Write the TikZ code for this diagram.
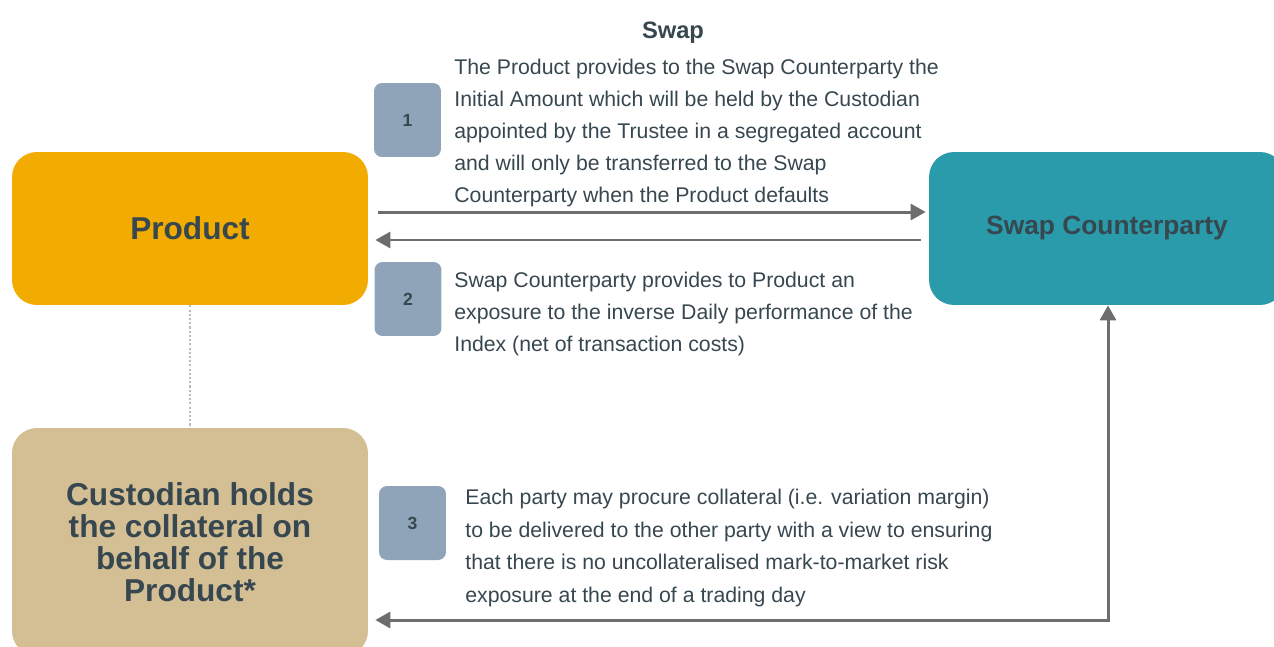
\documentclass[tikz,border=0pt]{standalone}
\usepackage{fontspec}
\setmainfont{Liberation Sans}
\usetikzlibrary{arrows.meta}

\definecolor{prodorange}{HTML}{F2AB00}
\definecolor{swapteal}{HTML}{2A9BAA}
\definecolor{custtan}{HTML}{D4BE94}
\definecolor{stepgray}{HTML}{8FA4B8}
\definecolor{inkslate}{HTML}{37474F}
\definecolor{flowgray}{HTML}{6D6D6D}

\tikzset{
  party/.style={rounded corners=0.5cm, minimum width=7.12cm, minimum height=3.06cm,
    text=inkslate, font=\fontsize{18}{18.2}\selectfont\bfseries, align=center},
  stepbox/.style={fill=stepgray, rounded corners=0.16cm, minimum width=1.34cm,
    minimum height=1.48cm, text=inkslate, font=\fontsize{10}{11}\selectfont\bfseries},
  note/.style={anchor=west, inner sep=0pt, align=left, text=inkslate,
    font=\fontsize{12.1}{18.1}\selectfont},
  flow/.style={draw=flowgray, line width=1.7pt, arrows={-Triangle[length=0.3cm,width=0.32cm]}}
}

\begin{document}
\begin{tikzpicture}[x=0.02cm,y=-0.02cm]
\useasboundingbox (0,0) rectangle (1274,646);
\clip (0,0) rectangle (1274,646);

% parties
\node[party, fill=prodorange] (prod) at (190,228.5) {Product};
\node[party, fill=swapteal, font=\fontsize{15}{17}\selectfont\bfseries] (swap) at (1107,228.5) {Swap Counterparty};
\node[party, fill=custtan, minimum height=4.56cm] (cust) at (190,542)
  {Custodian holds\\the collateral on\\behalf of the\\Product*};

% steps
\node[stepbox] (s1) at (407.5,120) {1};
\node[stepbox] (s2) at (408,299) {2};
\node[stepbox] (s3) at (412.5,523) {3};

\node[font=\fontsize{13.5}{15}\selectfont\bfseries, text=inkslate] (title) at (673,33) {Swap};
\node[note] (t1) at (454,133) {The Product provides to the Swap Counterparty the\\
  Initial Amount which will be held by the Custodian\\
  appointed by the Trustee in a segregated account\\
  and will only be transferred to the Swap\\
  Counterparty when the Product defaults};
\node[note] (t2) at (454,314) {Swap Counterparty provides to Product an\\
  exposure to the inverse Daily performance of the\\
  Index (net of transaction costs)};
\node[note, font=\fontsize{12.1}{18.6}\selectfont] (t3) at (465,548) {Each party may procure collateral (i.e. variation margin)\\
  to be delivered to the other party with a view to ensuring\\
  that there is no uncollateralised mark-to-market risk\\
  exposure at the end of a trading day};

% connectors
\draw[flow, shorten <=0.2cm, shorten >=0.06cm] ([yshift=0.33cm]prod.east) -- ([yshift=0.33cm]swap.west);
\draw[flow, shorten <=0.16cm, shorten >=0.14cm] ([yshift=-0.23cm]swap.west) -- ([yshift=-0.23cm]prod.east);
\coordinate (corner) at (1108,620);
\draw[flow, arrows={Triangle[length=0.3cm,width=0.32cm]-Triangle[length=0.3cm,width=0.32cm]}, shorten >=0.14cm]
  (swap.south -| corner) -- (corner) -- (corner -| cust.east);
\draw[gray!55, line width=1.5pt, dash pattern=on 1.2pt off 1.2pt] (prod.south) -- (cust.north);
\end{tikzpicture}
\end{document}
